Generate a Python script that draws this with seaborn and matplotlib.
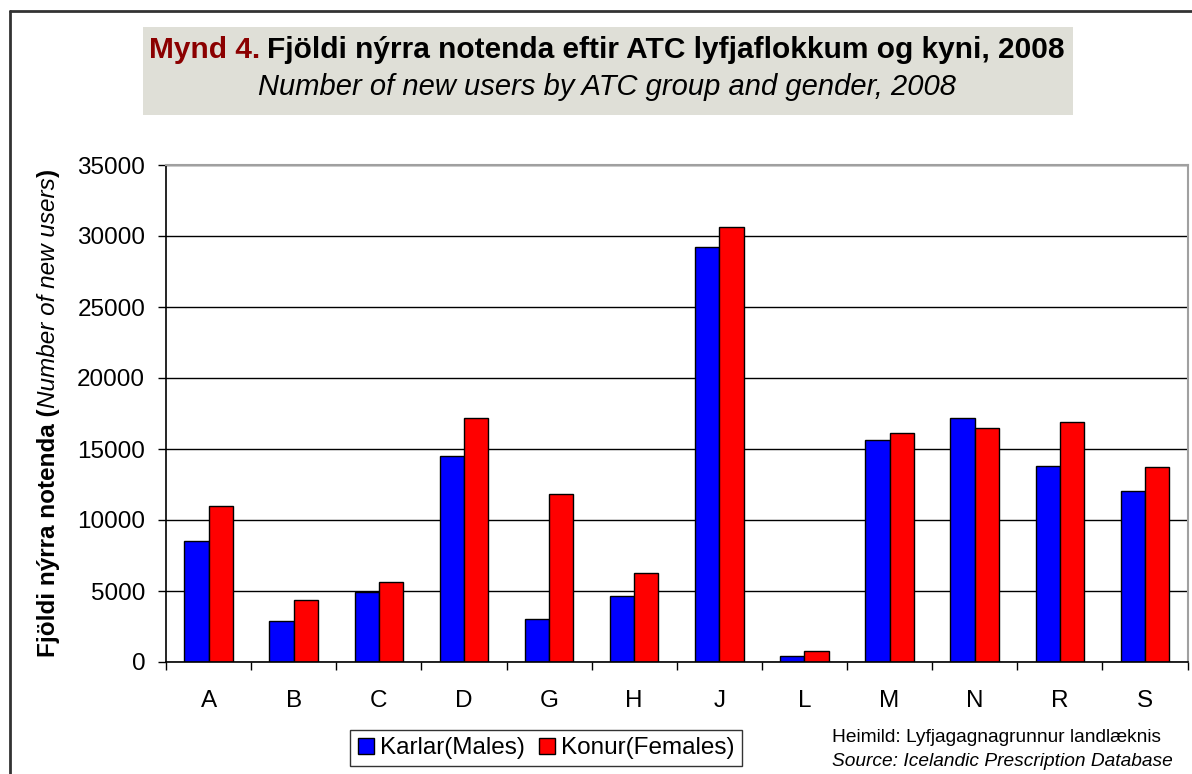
import numpy as np
import pandas as pd
import matplotlib.pyplot as plt
import seaborn as sns
from matplotlib.patches import Rectangle
from matplotlib.lines import Line2D

# data
groups = ['A', 'B', 'C', 'D', 'G', 'H', 'J', 'L', 'M', 'N', 'R', 'S']
males = [8500, 2900, 4900, 14500, 3000, 4650, 29200, 400, 15650, 17200, 13800, 12050]
females = [11000, 4350, 5650, 17200, 11850, 6300, 30600, 750, 16100, 16500, 16900, 13700]
series = ['Karlar(Males)', 'Konur(Females)']
colors = ['#0000FF', '#FF0000']
yticks = [0, 5000, 10000, 15000, 20000, 25000, 30000, 35000]

df = pd.DataFrame({
    'group': groups * 2,
    'value': males + females,
    'gender': [series[0]] * len(groups) + [series[1]] * len(groups),
})

sns.set_theme(style='white')
plt.rcParams['font.family'] = ['Liberation Sans', 'DejaVu Sans']
plt.rcParams['text.color'] = 'black'
plt.rcParams['xtick.color'] = 'black'
plt.rcParams['ytick.color'] = 'black'
plt.rcParams['axes.labelcolor'] = 'black'

W, H = 1192, 774
fig = plt.figure(figsize=(W / 100, H / 100), dpi=100)


# pixel (from top-left) -> figure fraction
def fx(px):
    return px / W


def fy(py):
    return (H - py) / H


ax = fig.add_axes([fx(166), fy(662), fx(1187.5) - fx(166), fy(165) - fy(662)])

sns.barplot(data=df, x='group', y='value', hue='gender', palette=colors,
            width=0.571, edgecolor='black', linewidth=1, saturation=1,
            gap=0, ax=ax)

ax.set_ylim(0, 35000)
ax.set_yticks(yticks)
ax.set_yticklabels([str(t) for t in yticks], fontsize=17.5)
ax.set_xlabel('')
ax.set_ylabel('')
ax.yaxis.grid(True, color='black', linewidth=1)
ax.set_axisbelow(True)

# category ticks between groups, labels centred
ax.set_xlim(-0.5, len(groups) - 0.5)
ax.set_xticks(np.arange(len(groups)))
ax.set_xticklabels(groups, fontsize=17.5)
ax.set_xticks(np.arange(len(groups) + 1) - 0.5, minor=True)
ax.tick_params(axis='x', which='major', length=0, pad=20)
ax.tick_params(axis='x', which='minor', length=6, width=1, color='black', direction='out', bottom=True)
ax.tick_params(axis='y', length=6, width=1, color='black', direction='out', left=True, pad=9)

for s in ['left', 'bottom']:
    ax.spines[s].set_color('black')
    ax.spines[s].set_linewidth(1.2)
for s in ['top', 'right']:
    ax.spines[s].set_color('#a0a0a0')
    ax.spines[s].set_linewidth(1.5)

# legend at the bottom
handles = [Line2D([], [], marker='s', linestyle='', markersize=11, markerfacecolor=c,
                  markeredgecolor='black', markeredgewidth=1) for c in colors]
ax.legend_.remove()
leg = fig.legend(handles, series, loc='center', bbox_to_anchor=(fx(546), fy(748)),
                 ncol=2, fontsize=17.5, frameon=True, fancybox=False, edgecolor='black',
                 handlelength=0.7, handletextpad=0.2, columnspacing=0.6, borderpad=0.3)
leg.get_frame().set_linewidth(1)

# chart border
fig.add_artist(Line2D([fx(10), fx(10)], [fy(10.7), -0.05], color='#333333', linewidth=2))
fig.add_artist(Line2D([fx(10), 1.05], [fy(10.7), fy(10.7)], color='#333333', linewidth=2))

# title box
fig.add_artist(Rectangle((fx(143), fy(115)), fx(1073) - fx(143), fy(27) - fy(115),
                         facecolor='#DFDFD7', edgecolor='none'))

renderer = fig.canvas.get_renderer()

t1 = fig.text(0, fy(50), 'Mynd 4.', color='#8B0000', fontsize=21.5, weight='bold', va='center')
t2 = fig.text(0, fy(50), 'Fjöldi nýrra notenda eftir ATC lyfjaflokkum og kyni, 2008',
              color='black', fontsize=21.5, weight='bold', va='center')
w1 = t1.get_window_extent(renderer).width
w2 = t2.get_window_extent(renderer).width
space = 7
x0 = 607 - (w1 + space + w2) / 2
t1.set_x(fx(x0))
t2.set_x(fx(x0 + w1 + space))

fig.text(fx(607), fy(87), 'Number of new users by ATC group and gender, 2008',
         fontsize=21, style='italic', ha='center', va='center')

# y label in three styles
parts = [('Fjöldi nýrra notenda (', 'bold', 'normal'),
         ('Number of new users', 'normal', 'italic'),
         (')', 'bold', 'normal')]
ytexts = []
for txt, wt, st in parts:
    t = fig.text(fx(55), 0, txt, rotation=90, rotation_mode='anchor', ha='left', va='baseline',
                 fontsize=17.5, weight=wt, style=st)
    ytexts.append(t)
lens = [t.get_window_extent(renderer).height for t in ytexts]
ystart = 413 + sum(lens) / 2
for t, L in zip(ytexts, lens):
    t.set_y(fy(ystart))
    ystart -= L

# source note
fig.text(fx(832), fy(737), 'Heimild: Lyfjagagnagrunnur landlæknis', fontsize=13.8, va='center')
fig.text(fx(832), fy(761), 'Source: Icelandic Prescription Database', fontsize=13.8,
         style='italic', va='center')

fig.savefig('out.png', dpi=100)
